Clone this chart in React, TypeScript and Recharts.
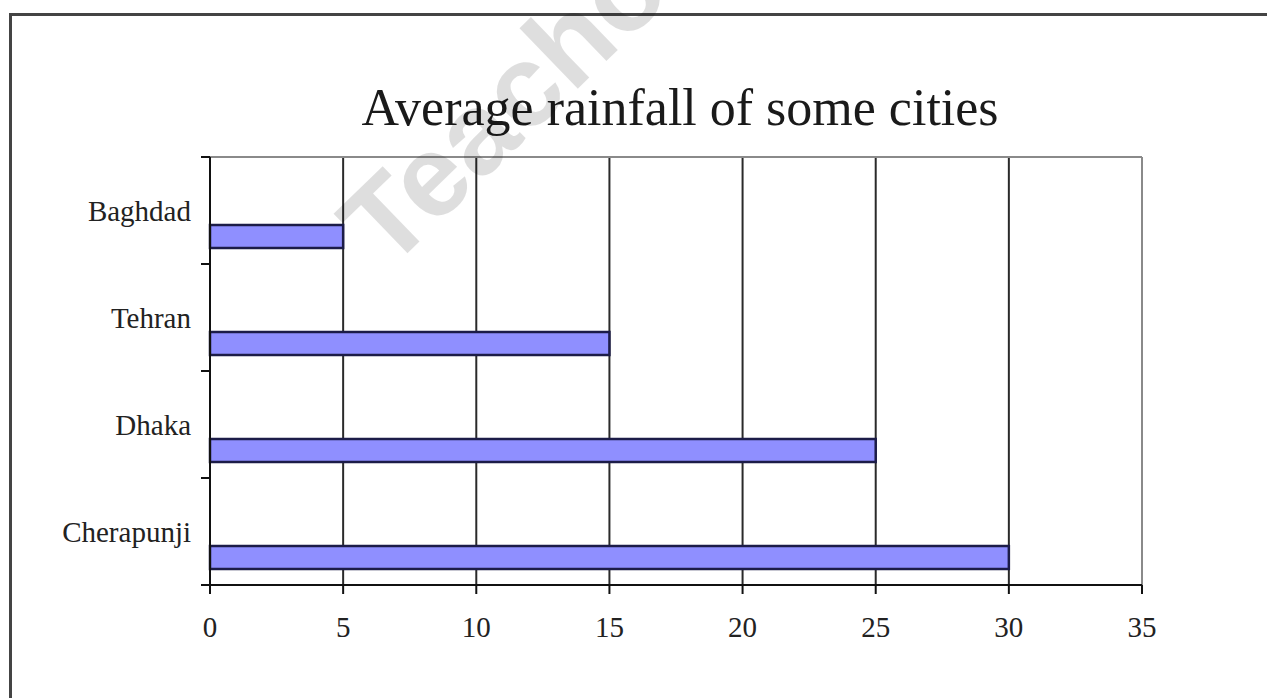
import React from 'react';
import { BarChart, Bar, XAxis, YAxis, CartesianGrid, ReferenceLine } from 'recharts';

const cities = ['Baghdad', 'Tehran', 'Dhaka', 'Cherapunji'];
const rainfall = [5, 15, 25, 30];
const spacer = [0, 0, 0, 0];
const xTicks = [0, 5, 10, 15, 20, 25, 30, 35];
const title = 'Average rainfall of some cities';
const watermark = 'Teachoo';

const data = cities.map((city, i) => ({ city, spacer: spacer[i], rainfall: rainfall[i] }));

const FONT = '"Liberation Serif", "Times New Roman", serif';
const Y_TICK_SIZE = 9;
const Y_TICK_MARGIN = 10;

function CityTick(props: any) {
  const { x, y, payload } = props;
  const half = payload && typeof payload.offset === 'number' ? payload.offset : 0;
  const axisX = x + Y_TICK_SIZE + Y_TICK_MARGIN;
  return (
    <g>
      {half > 0 && (
        <>
          <line x1={axisX - Y_TICK_SIZE} x2={axisX} y1={y - half} y2={y - half} stroke="#111" strokeWidth={2} />
          <line x1={axisX - Y_TICK_SIZE} x2={axisX} y1={y + half} y2={y + half} stroke="#111" strokeWidth={2} />
        </>
      )}
      <text x={x} y={y} dy="0.355em" textAnchor="end" fontFamily={FONT} fontSize={29} fill="#222">
        {payload.value}
      </text>
    </g>
  );
}

export default function App() {
  return (
    <div style={{ position: 'absolute', left: 0, top: 0, width: 1267, height: 698, overflow: 'hidden', background: '#fff' }}>
      <div style={{ position: 'absolute', left: 9, top: 13, width: 1400, height: 800, borderLeft: '3px solid #444', borderTop: '3px solid #444' }} />
      <div style={{ position: 'absolute', left: 0, top: 0 }}>
        <BarChart
          width={1267}
          height={698}
          data={data}
          layout="vertical"
          margin={{ top: 157, right: 125, left: 60, bottom: 53 }}
          barSize={23}
          barGap={28}
        >
          <text x={680} y={125} textAnchor="middle" fontFamily={FONT} fontSize={52} fill="#1a1a1a">{title}</text>
          <CartesianGrid horizontal={false} stroke="#2a2a2a" strokeWidth={2} />
          <CartesianGrid
            vertical={false}
            stroke="#8a8a8a"
            strokeWidth={2}
            horizontalCoordinatesGenerator={({ offset }: any) => [offset.top]}
          />
          <XAxis
            type="number"
            domain={[0, 35]}
            ticks={xTicks}
            interval={0}
            height={60}
            tickSize={9}
            tickMargin={22}
            axisLine={{ stroke: '#111', strokeWidth: 2 }}
            tickLine={{ stroke: '#111', strokeWidth: 2 }}
            tick={{ fontFamily: FONT, fontSize: 29, fill: '#222' }}
          />
          <YAxis
            type="category"
            dataKey="city"
            width={150}
            axisLine={{ stroke: '#111', strokeWidth: 2 }}
            tickLine={false}
            tickSize={Y_TICK_SIZE}
            tickMargin={Y_TICK_MARGIN}
            tick={<CityTick />}
          />
          <ReferenceLine x={35} stroke="#8a8a8a" strokeWidth={2} />
          <Bar dataKey="spacer" fill="none" stroke="none" isAnimationActive={false} />
          <Bar dataKey="rainfall" fill="#8f8fff" stroke="#1c1c48" strokeWidth={2.5} isAnimationActive={false} />
        </BarChart>
      </div>
      <svg width={1267} height={698} style={{ position: 'absolute', left: 0, top: 0, pointerEvents: 'none' }}>
        <text
          x={388}
          y={272}
          transform="rotate(-44 388 272)"
          fontFamily="'Liberation Sans', Arial, sans-serif"
          fontWeight={700}
          fontSize={116}
          fill="#000"
          fillOpacity={0.13}
        >
          {watermark}
        </text>
      </svg>
    </div>
  );
}
